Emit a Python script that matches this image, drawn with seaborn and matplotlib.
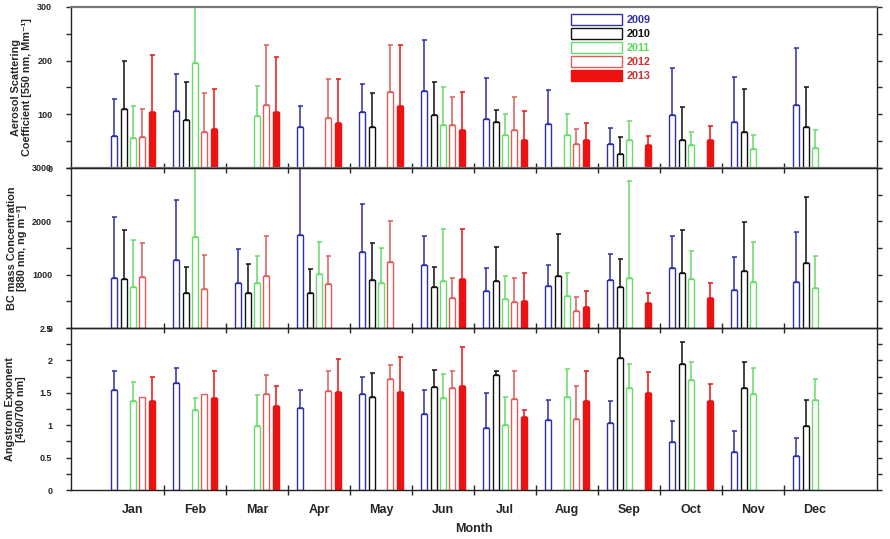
import matplotlib
matplotlib.use("Agg")
import matplotlib.pyplot as plt
import seaborn as sns
import numpy as np
import pandas as pd
from matplotlib.patches import Patch
from matplotlib.ticker import MultipleLocator, FixedLocator, FuncFormatter

nan = np.nan

MONTHS = ["Jan", "Feb", "Mar", "Apr", "May", "Jun",
          "Jul", "Aug", "Sep", "Oct", "Nov", "Dec"]
YEARS = ["2009", "2010", "2011", "2012", "2013"]

# aerosol scattering coefficient (Mm-1): monthly mean and sd
SCAT_2009 = [59, 106, nan, 76, 104, 144, 91, 82, 44, 98, 85, 117]
SCAT_2010 = [110, 89, nan, nan, 76, 98, 85, nan, 27, 53, 68, 77]
SCAT_2011 = [55, 195, 96, nan, nan, 80, 61, 61, 52, 42, 36, 37]
SCAT_2012 = [58, 68, 117, 94, 141, 80, 71, 44, nan, nan, nan, nan]
SCAT_2013 = [104, 73, 104, 83, 115, 71, 52, 52, 43, 52, nan, nan]
SCAT_SD_2009 = [70, 69, nan, 40, 52, 95, 77, 63, 30, 88, 84, 106]
SCAT_SD_2010 = [89, 72, nan, nan, 63, 62, 24, nan, 31, 60, 79, 74]
SCAT_SD_2011 = [61, 130, 56, nan, nan, 70, 39, 39, 36, 25, 26, 34]
SCAT_SD_2012 = [52, 71, 113, 72, 89, 53, 62, 29, nan, nan, nan, nan]
SCAT_SD_2013 = [106, 74, 103, 83, 115, 71, 54, 31, 16, 27, nan, nan]

# BC mass concentration (ng m-3)
BC_2009 = [934, 1270, 852, 1737, 1420, 1177, 691, 784, 897, 1121, 715, 871]
BC_2010 = [921, 647, 660, 660, 897, 777, 883, 971, 766, 1027, 1070, 1214]
BC_2011 = [771, 1700, 840, 1014, 840, 889, 553, 603, 940, 927, 859, 747]
BC_2012 = [964, 734, 977, 822, 1244, 566, 479, 323, nan, nan, nan, nan]
BC_2013 = [nan, nan, nan, nan, nan, 921, 504, 398, 467, 560, nan, nan]
BC_SD_2009 = [1139, 1121, 624, 1313, 902, 553, 435, 404, 497, 603, 623, 922]
BC_SD_2010 = [921, 504, 547, 454, 691, 363, 642, 791, 534, 803, 922, 1233]
BC_SD_2011 = [873, 1400, 505, 604, 666, 972, 430, 436, 1817, 511, 759, 610]
BC_SD_2012 = [630, 630, 753, 523, 755, 368, 455, 262, nan, nan, nan, nan]
BC_SD_2013 = [nan, nan, nan, nan, nan, 928, 529, 293, 187, 280, nan, nan]

# Angstrom exponent (450/700 nm)
AE_2009 = [1.54, 1.65, nan, 1.27, 1.48, 1.17, 0.96, 1.08, 1.03, 0.74, 0.59, 0.52]
AE_2010 = [nan, nan, nan, nan, 1.44, 1.59, 1.77, nan, 2.03, 1.94, 1.57, 0.98]
AE_2011 = [1.37, 1.23, 0.98, nan, nan, 1.42, 1.01, 1.43, 1.57, 1.69, 1.48, 1.39]
AE_2012 = [1.44, 1.48, 1.48, 1.53, 1.71, 1.58, 1.41, 1.10, nan, nan, nan, nan]
AE_2013 = [1.37, 1.42, 1.29, 1.51, 1.52, 1.60, 1.12, 1.37, 1.50, 1.38, nan, nan]
AE_SD_2009 = [0.30, 0.24, nan, 0.27, 0.27, 0.38, 0.54, 0.31, 0.35, 0.33, 0.32, 0.28]
AE_SD_2010 = [nan, nan, nan, nan, 0.36, 0.26, 0.07, nan, 0.60, 0.34, 0.40, 0.41]
AE_SD_2011 = [0.30, 0.19, 0.49, nan, nan, 0.37, 0.42, 0.44, 0.37, 0.28, 0.40, 0.32]
AE_SD_2012 = [nan, nan, 0.30, 0.31, 0.22, 0.25, 0.42, 0.50, nan, nan, nan, nan]
AE_SD_2013 = [0.38, 0.42, 0.31, 0.51, 0.53, 0.61, 0.11, 0.47, 0.32, 0.25, nan, nan]

EDGE = {"2009": "#2f2fa3", "2010": "#111111", "2011": "#66dd66",
        "2012": "#dd5c5c", "2013": "#ee1111"}
TEXT_COL = {"2009": "#3030b0", "2010": "#111111", "2011": "#55dd55",
            "2012": "#cc3333", "2013": "#cc3333"}
FILLED = {"2013"}


def long_frame(means, sds):
    rows = []
    for year, m, s in zip(YEARS, means, sds):
        for month, v, e in zip(MONTHS, m, s):
            if not np.isnan(v):
                rows.append((month, year, v, e))
    return pd.DataFrame(rows, columns=["month", "year", "value", "sd"])


sns.set_style("ticks")
plt.rcParams["font.family"] = ["Liberation Sans", "DejaVu Sans"]
plt.rcParams["font.weight"] = "bold"

fig = plt.figure(figsize=(8.9, 5.39), dpi=100)
L, W = 71 / 890, 806 / 890
boxes = [(7, 168), (168, 328), (328, 490)]
label_x = [-0.049, -0.054, -0.056]

panels = [
    (long_frame([SCAT_2009, SCAT_2010, SCAT_2011, SCAT_2012, SCAT_2013],
                [SCAT_SD_2009, SCAT_SD_2010, SCAT_SD_2011, SCAT_SD_2012, SCAT_SD_2013]),
     (0, 300), 100, 50, "Aerosol Scattering\nCoefficient [550 nm, Mm\u207b\u00b9]"),
    (long_frame([BC_2009, BC_2010, BC_2011, BC_2012, BC_2013],
                [BC_SD_2009, BC_SD_2010, BC_SD_2011, BC_SD_2012, BC_SD_2013]),
     (0, 3000), 1000, 500, "BC mass Concentration\n[880 nm, ng m\u207b\u00b3]"),
    (long_frame([AE_2009, AE_2010, AE_2011, AE_2012, AE_2013],
                [AE_SD_2009, AE_SD_2010, AE_SD_2011, AE_SD_2012, AE_SD_2013]),
     (0, 2.5), 0.5, 0.25, "Angstrom Exponent\n[450/700 nm]"),
]

axes = []
for i, ((top, bot), (df, ylim, major, minor, ylabel)) in enumerate(zip(boxes, panels)):
    ax = fig.add_axes([L, 1 - bot / 539, W, (bot - top) / 539])
    ax.set_facecolor("none")
    sns.barplot(data=df, x="month", y="value", hue="year",
                order=MONTHS, hue_order=YEARS, palette=EDGE,
                width=0.75, gap=0.35, errorbar=None, legend=False,
                linewidth=1.0, ax=ax)

    lookup = df.set_index(["month", "year"])["sd"]
    for bar in list(ax.patches):
        xc = bar.get_x() + bar.get_width() / 2
        mi = int(round(xc))
        yi = int(round((xc - mi) / 0.15)) + 2
        month, year = MONTHS[mi], YEARS[yi]
        col = EDGE[year]
        bar.set_edgecolor(col)
        bar.set_facecolor(col if year in FILLED else "white")
        bar.set_linewidth(1.0)
        sd = lookup.get((month, year), nan)
        if not np.isnan(sd):
            ax.errorbar(xc, bar.get_height(), yerr=[[0], [sd]], fmt="none",
                        ecolor=col, elinewidth=1.1, capsize=1.8, capthick=1.1,
                        zorder=1)

    ax.set_xlim(-1, 12)
    ax.set_ylim(*ylim)
    ax.yaxis.set_major_locator(MultipleLocator(major))
    ax.yaxis.set_minor_locator(MultipleLocator(minor))
    ax.yaxis.set_major_formatter(FuncFormatter(lambda v, p: f"{v:g}"))
    ax.tick_params(axis="y", which="both", left=True, right=True,
                   direction="out", length=3.5, width=1, labelsize=6.5, pad=10)
    ax.set_xticks(range(12))
    ax.xaxis.set_minor_locator(FixedLocator(np.arange(0.5, 11, 1)))
    ax.tick_params(axis="x", which="major", length=0, pad=10, labelsize=9)
    ax.tick_params(axis="x", which="minor", direction="inout", length=7, width=1)
    if i < 2:
        ax.set_xticklabels([])
    else:
        ax.set_xticklabels(MONTHS)
    ax.set_xlabel("")
    ax.set_ylabel(ylabel, fontsize=7.8, fontweight="bold", linespacing=1.1)
    ax.yaxis.set_label_coords(label_x[i], 0.5)
    for s in ax.spines.values():
        s.set_linewidth(1.0)
        s.set_color("#222222")
    axes.append(ax)

axes[0].spines["top"].set_color("#777777")
axes[0].spines["top"].set_linewidth(1.6)
axes[0].spines["bottom"].set_color("#777777")
axes[0].spines["bottom"].set_linewidth(1.6)

handles = [Patch(facecolor=EDGE[y] if y in FILLED else "white",
                 edgecolor=EDGE[y], linewidth=1.0, label=y) for y in YEARS]
leg = fig.legend(handles=handles, loc="upper left",
                 bbox_to_anchor=(571 / 890, 1 - 14 / 539),
                 frameon=False, fontsize=7.8, handlelength=4.7,
                 handleheight=1.2, labelspacing=0.26, handletextpad=0.45,
                 borderpad=0, borderaxespad=0)
for t, y in zip(leg.get_texts(), YEARS):
    t.set_color(TEXT_COL[y])
    t.set_fontweight("bold")

fig.text(474 / 890, 1 - 529 / 539, "Month", ha="center", va="center",
         fontsize=9, fontweight="bold")

fig.savefig("out.png", dpi=100)
